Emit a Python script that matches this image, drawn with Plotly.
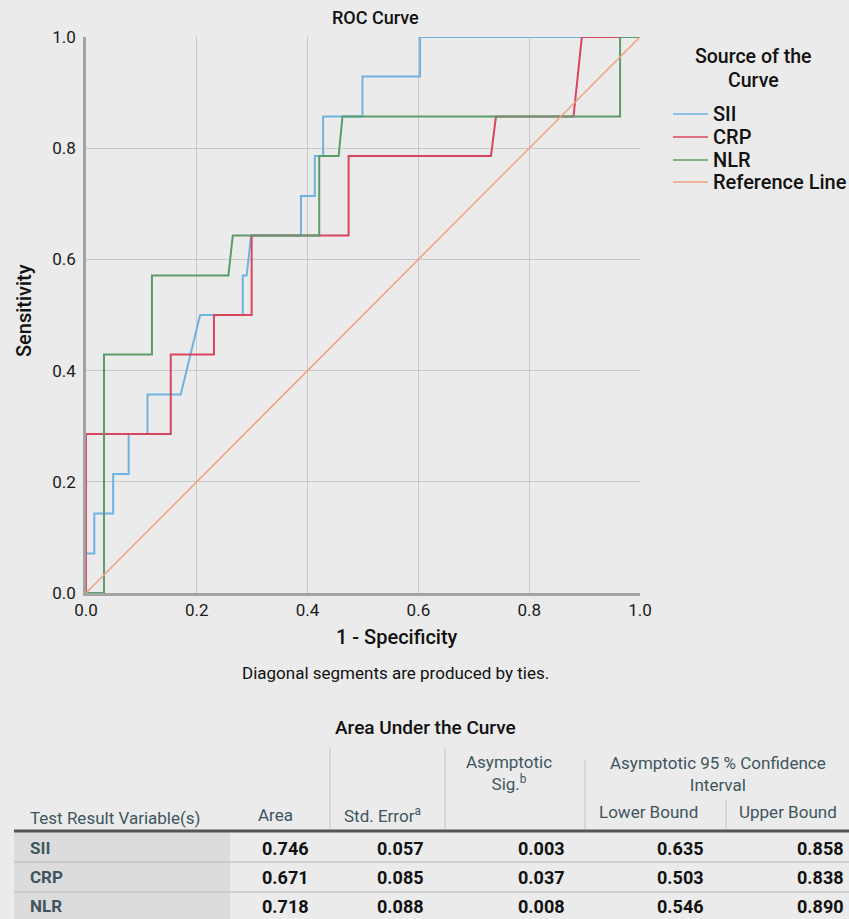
import plotly.graph_objects as go

W, H = 849, 919

# ---------------- data ----------------
sii_fpr = [0, 0, 0.015, 0.015, 0.049, 0.049, 0.077, 0.077, 0.111, 0.111, 0.171, 0.206,
           0.283, 0.283, 0.290, 0.298, 0.388, 0.388, 0.413, 0.413, 0.428, 0.428,
           0.499, 0.499, 0.603, 0.603, 1.0]
sii_tpr = [0, 0.071, 0.071, 0.143, 0.143, 0.214, 0.214, 0.286, 0.286, 0.357, 0.357, 0.5,
           0.5, 0.571, 0.571, 0.643, 0.643, 0.714, 0.714, 0.786, 0.786, 0.857,
           0.857, 0.929, 0.929, 1.0, 1.0]

crp_fpr = [0, 0, 0.153, 0.153, 0.231, 0.231, 0.299, 0.299, 0.474, 0.474, 0.731, 0.740,
           0.880, 0.895, 1.0]
crp_tpr = [0, 0.286, 0.286, 0.429, 0.429, 0.5, 0.5, 0.643, 0.643, 0.786, 0.786, 0.857,
           0.857, 1.0, 1.0]

nlr_fpr = [0, 0.0325, 0.0325, 0.119, 0.119, 0.257, 0.265, 0.421, 0.421, 0.456, 0.463,
           0.964, 0.964, 1.0]
nlr_tpr = [0, 0, 0.429, 0.429, 0.571, 0.571, 0.643, 0.643, 0.786, 0.786, 0.857,
           0.857, 1.0, 1.0]

ref_x = [0, 1]
ref_y = [0, 1]

axis_ticks = [0.0, 0.2, 0.4, 0.6, 0.8, 1.0]
axis_ticktext = ["0.0", "0.2", "0.4", "0.6", "0.8", "1.0"]

legend_names = ["SII", "CRP", "NLR", "Reference Line"]

tbl_vars = ["SII", "CRP", "NLR"]
tbl_area = ["0.746", "0.671", "0.718"]
tbl_se = ["0.057", "0.085", "0.088"]
tbl_sig = ["0.003", "0.037", "0.008"]
tbl_lower = ["0.635", "0.503", "0.546"]
tbl_upper = ["0.858", "0.838", "0.890"]

# ---------------- style ----------------
FONT = "Roboto, sans-serif"
BG = "#ebebeb"
HDR = "#3e5560"
COLORS = ["#6fb3e2", "#d9475f", "#5c9c6a", "#f2a07e"]
WIDTHS = [2, 2, 2, 1.5]


def px(x):
    return x / W


def py(y):
    return 1 - y / H


fig = go.Figure()
series = [(sii_fpr, sii_tpr), (crp_fpr, crp_tpr), (nlr_fpr, nlr_tpr), (ref_x, ref_y)]
for (xs, ys), name, col, w in zip(series, legend_names, COLORS, WIDTHS):
    fig.add_trace(go.Scatter(x=xs, y=ys, mode="lines", name=name, showlegend=False,
                             line=dict(color=col, width=w), cliponaxis=False))

axis_common = dict(range=[0, 1], tickvals=axis_ticks, ticktext=axis_ticktext,
                   showgrid=True, gridcolor="#c8c8c8", gridwidth=1,
                   zeroline=False, showline=True, linecolor="#a3a3a3", linewidth=2.5,
                   ticks="", tickfont=dict(family=FONT, size=17, color="#1a1a1a"),
                   automargin=False, fixedrange=True)

fig.update_layout(
    width=W, height=H,
    margin=dict(l=0, r=0, t=0, b=0, autoexpand=False),
    paper_bgcolor=BG, plot_bgcolor=BG,
    xaxis=dict(domain=[px(86), px(640)], anchor="y", ticklabelstandoff=0, **axis_common),
    yaxis=dict(domain=[py(593), py(37)], anchor="x", ticklabelstandoff=4, **axis_common),
    showlegend=False,
)

ann = []


def text(x, y, s, size=16, color="#111111", bold=False, xanchor="center", angle=0, weight=None):
    ann.append(dict(x=px(x), y=py(y), xref="paper", yref="paper", text=s, showarrow=False,
                    xanchor=xanchor, yanchor="middle", textangle=angle,
                    font=dict(family=FONT, size=size, color=color,
                              weight=weight if weight else ("bold" if bold else "normal"))))


text(375, 18, "ROC Curve", size=18, weight=500)
text(24, 311, "Sensitivity", size=20, weight=500, angle=-90)
text(397, 637, "1 - Specificity", size=20, weight=500)
text(395, 673, "Diagonal segments are produced by ties.", size=17)
text(425, 727, "Area Under the Curve", size=19, weight=500)

# legend (drawn manually to match the reference spacing)
text(753, 56, "Source of the", size=19.5, weight=500)
text(753, 81, "Curve", size=19.5, weight=500)
leg_y = [114, 137, 160, 182]
shapes = []


def line(x0, y0, x1, y1, col, w):
    shapes.append(dict(type="line", xref="paper", yref="paper", x0=px(x0), x1=px(x1),
                       y0=py(y0), y1=py(y1), line=dict(color=col, width=w)))


def rect(x0, y0, x1, y1, fill):
    shapes.append(dict(type="rect", xref="paper", yref="paper", x0=px(x0), x1=px(x1),
                       y0=py(y1), y1=py(y0), fillcolor=fill, line=dict(width=0), layer="below"))


for name, col, yy in zip(legend_names, COLORS, leg_y):
    line(673, yy, 708, yy, col, 1.5)
    text(711, yy, name, size=20, weight=500, xanchor="left")

# table header
text(28, 818, "Test Result Variable(s)", size=17, color=HDR, xanchor="left")
text(275, 815, "Area", size=17, color=HDR)
text(342, 815, "Std. Error<sup>a</sup>", size=17, color=HDR, xanchor="left")
text(509, 773, "Asymptotic<br>Sig.<sup>b</sup>", size=17, color=HDR)
text(718, 774, "Asymptotic 95 % Confidence<br>Interval", size=17, color=HDR)
text(648, 812, "Lower Bound", size=17, color=HDR)
text(788, 812, "Upper Bound", size=17, color=HDR)

row_y = [848, 877, 906]
col_right = [311, 426, 567, 706, 846]
for i, v in enumerate(tbl_vars):
    text(28, row_y[i], v, size=17, color=HDR, bold=True, xanchor="left")
    for xr, arr in zip(col_right, [tbl_area, tbl_se, tbl_sig, tbl_lower, tbl_upper]):
        text(xr, row_y[i], arr[i], size=18, color="#111111", bold=True, xanchor="right")

fig.update_layout(annotations=ann)

rect(14, 832, 230, 919, "#dcdcdc")
line(14, 831, 849, 831, "#555555", 3)
line(14, 862, 849, 862, "#c6c6c6", 1.5)
line(14, 892, 849, 892, "#c6c6c6", 1.5)
line(330, 748, 330, 829, "#d0d0d0", 1.5)
line(445, 748, 445, 829, "#d0d0d0", 1.5)
line(585, 760, 585, 829, "#d0d0d0", 1.5)
line(726, 800, 726, 829, "#d0d0d0", 1.5)
fig.update_layout(shapes=shapes)

fig.write_html("out.html", config={"displayModeBar": False},
               post_script="document.body.style.margin='0';document.body.style.background='%s';" % BG)
